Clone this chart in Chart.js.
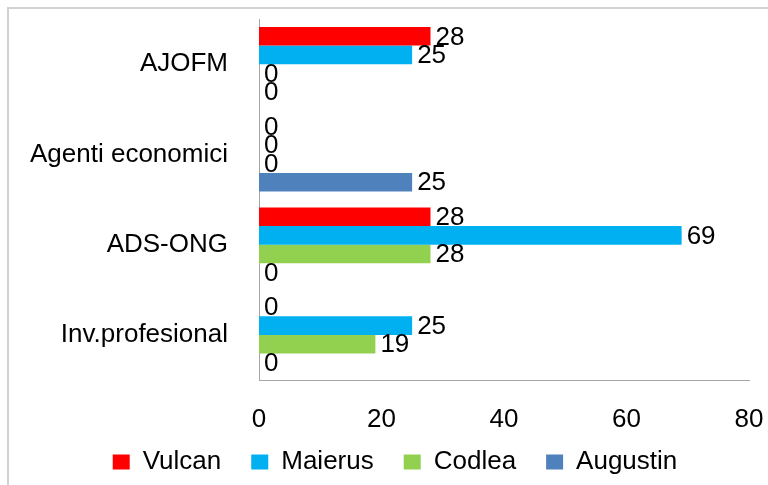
<!DOCTYPE html>
<html><head><meta charset="utf-8">
<script src="https://cdn.jsdelivr.net/npm/chart.js@4/dist/chart.umd.min.js"></script>
<style>
html,body{margin:0;padding:0;background:#fff}
#wrap{position:relative;width:768px;height:485px;overflow:hidden}
#frame{position:absolute;left:7px;top:7px;width:800px;height:520px;border-left:2px solid #d2d2d2;border-top:2px solid #d2d2d2}
canvas{position:absolute;left:0;top:0}
</style></head>
<body>
<div id="wrap"><div id="frame"></div><canvas id="c" width="768" height="485"></canvas></div>
<script>
const categories = ['AJOFM', 'Agenti economici', 'ADS-ONG', 'Inv.profesional'];
const seriesNames = ['Vulcan', 'Maierus', 'Codlea', 'Augustin'];
const vulcan   = [28, 0, 28, 0];
const maierus  = [25, 0, 69, 25];
const codlea   = [0, 0, 28, 19];
const augustin = [0, 25, 0, 0];
const xTicks = [0, 20, 40, 60, 80];
const colors = ['#FF0000', '#00B0F0', '#92D050', '#4F81BD'];

const FONT = 'Liberation Sans, Arial, sans-serif';
const FS = 26;

const valueLabels = {
  id: 'valueLabels',
  afterLayout(chart) {
    // let axis labels extend past their own boxes (no clipping)
    chart.scales.y.left = 0;
    chart.scales.x.bottom = chart.height;
  },
  afterDatasetsDraw(chart) {
    const ctx = chart.ctx;
    ctx.save();
    ctx.font = FS + 'px ' + FONT;
    ctx.fillStyle = '#000';
    ctx.textAlign = 'left';
    ctx.textBaseline = 'middle';
    chart.data.datasets.forEach((ds, di) => {
      const meta = chart.getDatasetMeta(di);
      meta.data.forEach((el, i) => {
        ctx.fillText(String(ds.data[i]), el.x + 5, el.y + 1);
      });
    });
    ctx.restore();
  }
};

new Chart(document.getElementById('c'), {
  type: 'bar',
  data: {
    labels: categories,
    datasets: [vulcan, maierus, codlea, augustin].map((d, i) => ({
      label: seriesNames[i],
      data: d,
      backgroundColor: colors[i],
      borderWidth: 0,
      categoryPercentage: 0.82,
      barPercentage: 1.0
    }))
  },
  options: {
    indexAxis: 'y',
    responsive: false,
    animation: false,
    devicePixelRatio: 1,
    layout: { padding: { left: 41, right: 19, top: 19, bottom: 0 } },
    scales: {
      x: {
        min: 0, max: 80,
        afterBuildTicks(s) { s.ticks = xTicks.map(v => ({ value: v })); },
        afterFit(s) { s.height = 39; },
        ticks: { font: { size: FS, family: FONT }, color: '#000', padding: 0 },
        grid: { display: false, drawTicks: true, tickLength: 24 },
        border: { display: true, color: '#a6a6a6', width: 1 }
      },
      y: {
        afterFit(s) { s.width = 218; },
        ticks: { font: { size: FS, family: FONT }, color: '#000', padding: 0 },
        grid: { display: false, drawTicks: true, tickLength: 31 },
        border: { display: true, color: '#a6a6a6', width: 1 }
      }
    },
    plugins: {
      legend: {
        position: 'bottom',
        labels: {
          font: { size: FS, family: FONT },
          color: '#000',
          boxWidth: 17,
          boxHeight: 15,
          padding: 30
        }
      },
      tooltip: { enabled: false }
    }
  },
  plugins: [valueLabels]
});
</script>
</body></html>
